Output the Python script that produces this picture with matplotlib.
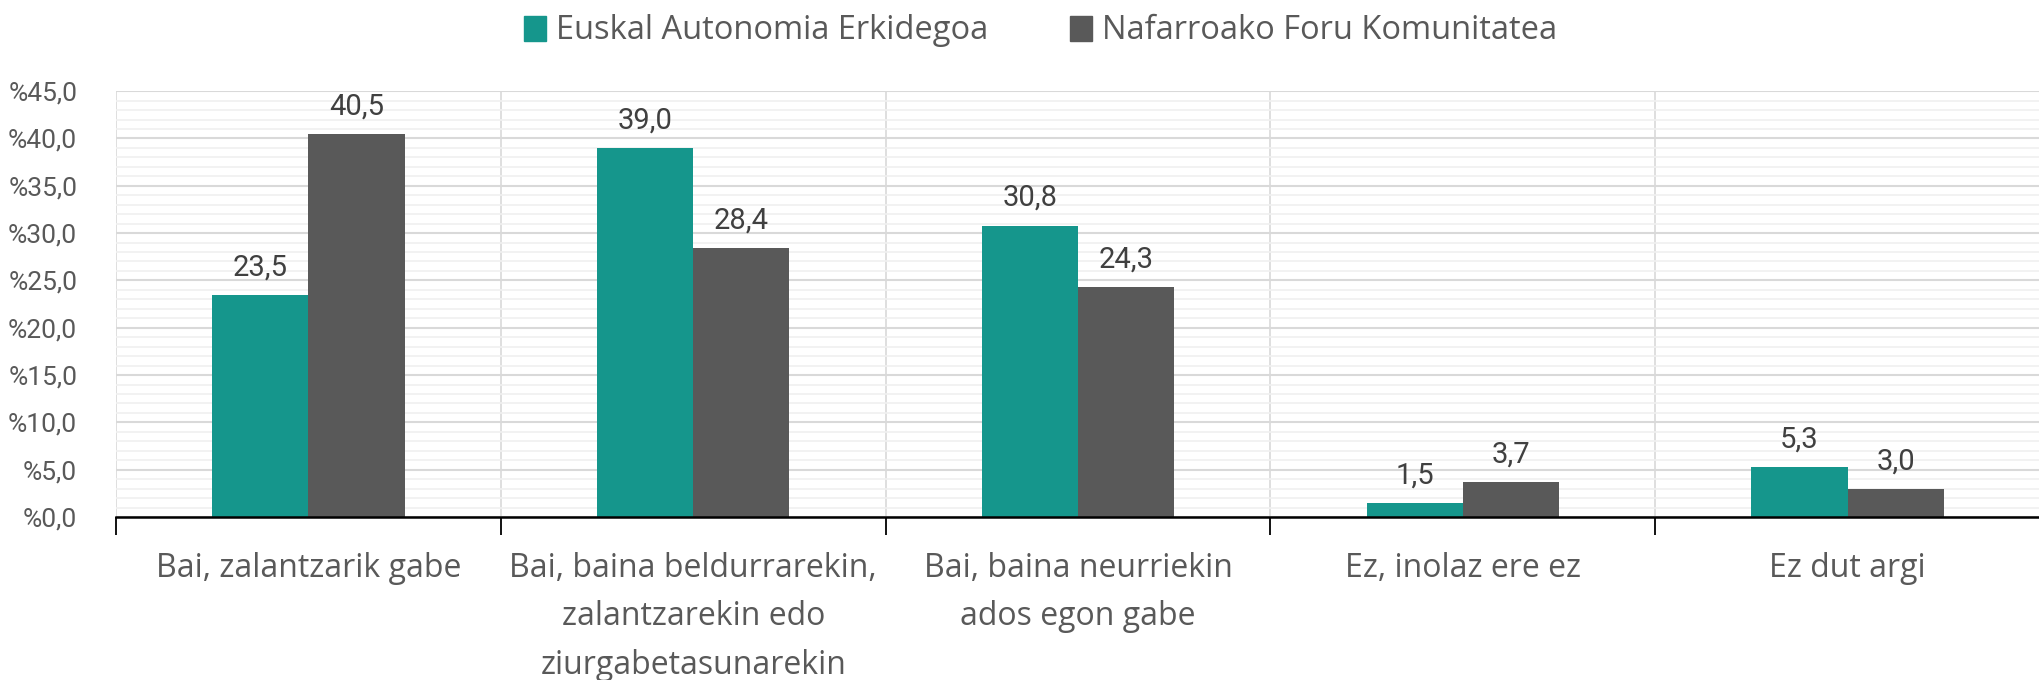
import matplotlib
matplotlib.use("Agg")
import matplotlib.pyplot as plt
from matplotlib.patches import Patch
from matplotlib.ticker import MultipleLocator, FuncFormatter

categories = [
    "Bai, zalantzarik gabe",
    "Bai, baina beldurrarekin,\nzalantzarekin edo\nziurgabetasunarekin",
    "Bai, baina neurriekin\nados egon gabe",
    "Ez, inolaz ere ez",
    "Ez dut argi",
]
series_names = ["Euskal Autonomia Erkidegoa", "Nafarroako Foru Komunitatea"]
eae = [23.5, 39.0, 30.8, 1.5, 5.3]
nfk = [40.5, 28.4, 24.3, 3.7, 3.0]

TEAL = "#15968c"
GREY = "#595959"
TXT = "#595959"

fig = plt.figure(figsize=(20.4, 6.8), dpi=100)
ax = fig.add_axes([0.0569, 0.2397, 0.9431, 0.6263])

x = list(range(len(categories)))
w = 0.25
b1 = ax.bar([i - w / 2 for i in x], eae, width=w, color=TEAL, zorder=3)
b2 = ax.bar([i + w / 2 for i in x], nfk, width=w, color=GREY, zorder=3)

for bars, vals in ((b1, eae), (b2, nfk)):
    for rect, v in zip(bars, vals):
        ax.annotate(f"{v:.1f}".replace(".", ","),
                    (rect.get_x() + rect.get_width() / 2, v),
                    xytext=(0, 14), textcoords="offset points",
                    ha="center", va="baseline", fontsize=21,
                    color="#404040", family="Roboto")

ax.set_xlim(-0.5, len(categories) - 0.5)
ax.set_ylim(0, 45)
ax.yaxis.set_major_locator(MultipleLocator(5))
ax.yaxis.set_minor_locator(MultipleLocator(1))
ax.yaxis.set_major_formatter(FuncFormatter(lambda v, p: "%" + f"{v:.1f}".replace(".", ",")))
ax.grid(axis="y", which="major", color="#d9d9d9", linewidth=1.5, zorder=0)
ax.grid(axis="y", which="minor", color="#f0f0f0", linewidth=1.2, zorder=0)

# category separators
ax.set_xticks([i - 0.5 for i in range(len(categories) + 1)])
ax.set_xticklabels([])
ax.set_xticks(x, minor=True)
ax.set_xticklabels(categories, minor=True, fontsize=23, color=TXT,
                   family="Open Sans", linespacing=1.62, va="top")
ax.tick_params(axis="x", which="minor", length=0, pad=25)
ax.tick_params(axis="x", which="major", length=13, width=1.3, color="black")
ax.grid(axis="x", which="major", color="#d9d9d9", linewidth=1.2, zorder=0)

ax.tick_params(axis="y", which="both", length=0, pad=28, labelsize=19, labelcolor=TXT)
for lab in ax.get_yticklabels():
    lab.set_family("Roboto")

for s in ("top", "right", "left"):
    ax.spines[s].set_visible(False)
ax.spines["bottom"].set_color("black")
ax.spines["bottom"].set_linewidth(1.8)
ax.spines["bottom"].set_zorder(4)

handles = [Patch(color=TEAL), Patch(color=GREY)]
fig.legend(handles, series_names, loc="upper center", bbox_to_anchor=(0.51, 1.022),
           ncol=2, frameon=False, handlelength=0.68, handleheight=0.8,
           handletextpad=0.3, columnspacing=2.5,
           prop={"family": "Open Sans", "size": 23.5}, labelcolor=TXT)

fig.savefig("out.png", dpi=100)
